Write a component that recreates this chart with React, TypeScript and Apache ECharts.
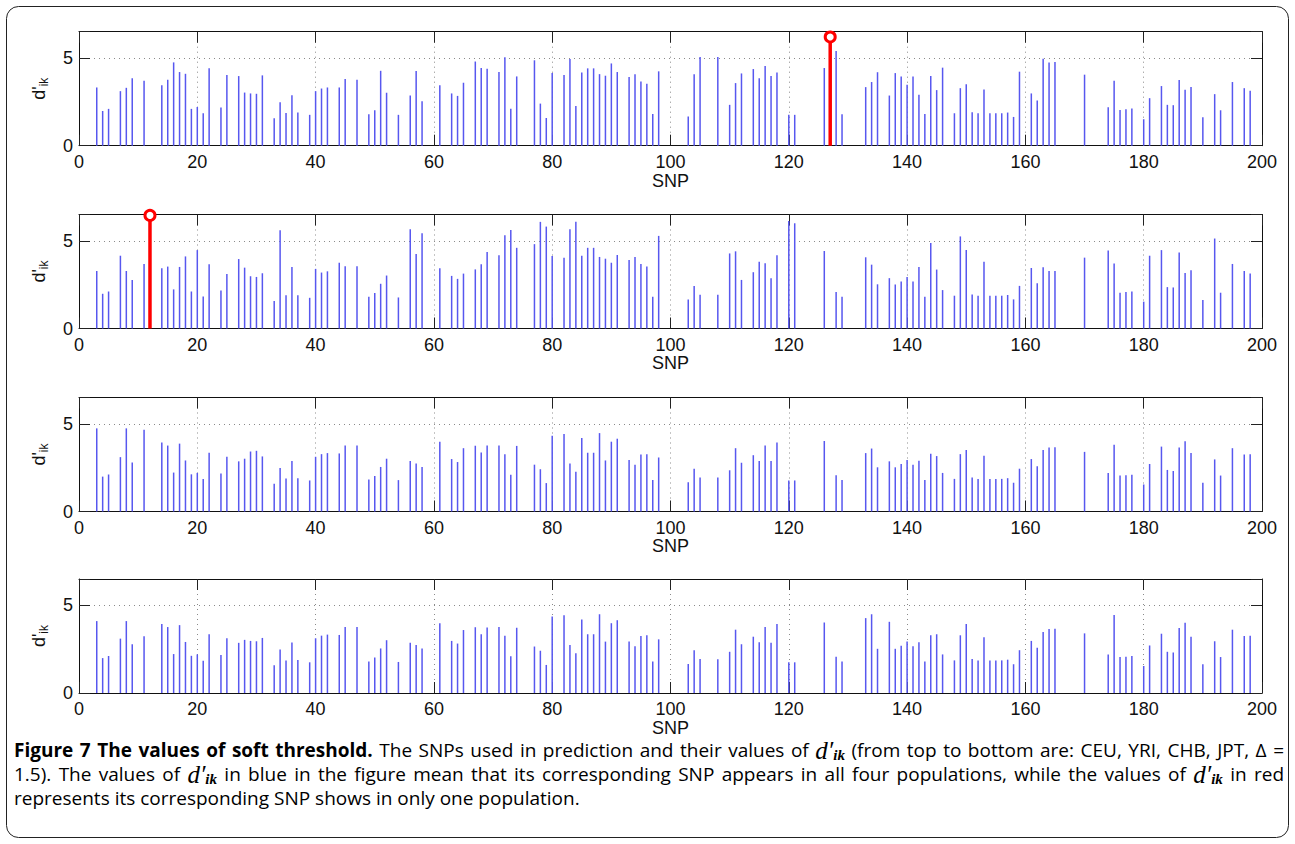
import { useEffect, useRef } from 'react';
import * as echarts from 'echarts';

// SNP indices that appear in all four populations
const snpPositions = [3,4,5,7,8,9,11,14,15,16,17,18,19,20,21,22,24,25,27,28,29,30,31,33,34,35,36,37,39,40,41,42,44,45,47,49,50,51,52,54,56,57,58,61,63,64,65,67,68,69,71,72,73,74,77,78,79,80,82,83,84,85,86,87,88,89,90,91,93,94,95,96,97,98,103,104,105,108,110,111,112,114,115,116,117,118,120,121,126,128,129,133,134,135,137,138,139,140,141,142,143,144,145,146,148,149,150,151,152,153,154,155,156,157,158,159,161,162,163,164,165,170,174,175,176,177,178,180,181,183,184,185,186,187,188,190,192,193,195,197,198];

const ceuValues = [3.32,1.98,2.10,3.11,3.30,3.84,3.70,3.44,3.76,4.75,4.20,4.10,2.10,2.21,1.85,4.41,2.18,4.03,3.97,3.03,2.98,2.96,4.01,1.56,2.48,1.87,2.88,1.89,1.76,3.11,3.26,3.32,3.32,3.80,3.76,1.79,2.02,4.27,3.02,1.76,2.86,4.26,2.54,3.45,2.98,2.84,3.59,4.80,4.43,4.39,4.20,5.04,2.10,3.95,4.87,2.40,1.58,4.14,4.03,4.94,2.27,4.18,4.41,4.41,4.08,3.99,4.69,4.20,3.91,4.08,3.66,3.53,1.81,4.24,1.66,4.08,5.06,5.06,2.33,3.57,4.12,4.37,3.84,4.54,3.97,4.18,1.76,1.76,4.43,5.40,1.79,3.34,3.63,4.19,2.86,4.14,3.95,3.47,3.95,2.90,1.81,3.97,3.17,4.45,1.85,3.28,3.51,1.91,1.85,3.21,1.85,1.85,1.85,1.89,1.64,4.22,2.98,2.58,4.96,4.75,4.77,4.05,2.19,3.70,2.04,2.08,2.12,1.51,2.71,3.40,2.33,2.31,3.74,3.19,3.34,1.62,2.94,2.02,3.63,3.28,3.13];

const yriValues = [3.28,1.98,2.11,4.15,3.28,2.77,3.68,3.43,3.53,2.23,3.51,4.11,2.11,4.47,1.83,3.66,2.17,3.11,3.96,3.47,2.98,2.94,3.15,1.57,5.60,1.89,3.51,1.89,1.75,3.40,3.19,3.26,3.75,3.55,3.55,1.81,2.02,2.55,3.02,1.77,5.66,4.25,5.43,3.43,3.00,2.83,3.13,3.37,3.66,4.36,4.17,5.32,5.62,4.60,4.81,6.08,5.81,4.13,4.04,5.66,6.08,4.15,4.60,4.60,4.08,3.98,3.75,4.19,3.91,4.08,3.68,3.53,1.81,5.28,1.66,2.43,1.92,1.92,4.28,4.40,2.77,3.21,3.81,3.72,2.87,4.17,6.13,6.00,4.42,2.08,1.81,4.06,3.64,2.52,2.87,2.51,2.68,2.94,2.68,3.51,1.81,4.87,3.36,2.19,1.87,5.25,4.47,1.94,1.87,3.81,1.87,1.87,1.87,1.91,1.66,2.43,3.45,2.58,3.49,3.28,3.28,4.04,4.45,3.70,2.04,2.08,2.11,1.53,4.15,4.47,2.36,2.34,4.34,3.17,3.32,1.62,5.13,2.04,3.68,3.28,3.13];

const chbValues = [4.74,1.99,2.11,3.10,4.74,2.80,4.66,3.93,3.76,2.22,3.87,2.91,2.12,2.20,1.86,3.35,2.16,3.12,2.86,3.01,3.42,3.46,3.14,1.58,2.48,1.88,2.88,1.90,1.77,3.12,3.27,3.33,3.31,3.76,3.76,1.82,2.03,2.54,3.01,1.79,2.88,2.74,2.54,3.98,2.99,2.82,3.61,3.75,3.36,3.76,3.76,3.27,2.09,3.74,2.67,2.41,1.62,4.32,4.42,2.73,2.27,4.19,3.35,3.35,4.47,2.91,3.98,4.15,2.93,2.67,3.25,3.27,1.80,3.08,1.67,2.44,1.94,1.94,2.35,3.61,2.78,3.21,2.88,3.76,2.88,3.93,1.77,1.77,4.02,2.07,1.80,3.33,3.59,2.52,2.86,2.52,2.71,2.93,2.67,2.89,1.80,3.29,3.16,2.20,1.86,3.27,3.50,1.94,1.86,3.18,1.86,1.86,1.86,1.90,1.64,2.44,2.99,2.58,3.50,3.65,3.67,3.40,2.20,3.80,2.05,2.07,2.09,1.54,2.71,3.70,2.37,2.31,3.65,4.00,3.33,1.64,2.97,2.05,3.61,3.25,3.27];

const jptValues = [4.10,1.99,2.11,3.10,4.10,2.78,3.23,3.93,3.76,2.22,3.87,2.91,2.12,2.20,1.84,3.35,2.16,3.12,2.86,3.03,2.97,2.95,3.14,1.58,2.48,1.86,2.88,1.88,1.75,3.12,3.27,3.33,3.31,3.76,3.76,1.80,2.03,2.54,3.01,1.77,2.86,2.74,2.54,3.97,2.97,2.82,3.59,3.75,3.35,3.74,3.76,3.27,2.09,3.72,2.65,2.41,1.60,4.36,4.44,2.73,2.27,4.19,3.35,3.35,4.49,2.93,3.98,4.15,2.93,2.67,3.25,3.29,1.80,3.06,1.65,2.44,1.94,1.92,2.35,3.61,2.78,3.21,2.89,3.76,2.86,3.93,1.75,1.75,4.02,2.07,1.79,4.27,4.49,2.52,4.06,2.52,2.69,2.93,2.67,2.89,1.79,3.29,3.35,2.20,1.86,3.29,3.93,1.94,1.86,3.18,1.86,1.86,1.86,1.90,1.64,2.44,2.97,2.58,3.48,3.65,3.67,3.40,2.20,4.45,2.05,2.07,2.11,1.54,2.71,3.38,2.35,2.31,3.70,4.00,3.21,1.64,2.95,2.05,3.61,3.25,3.27];

// SNPs found in only one population (panel index, SNP, value)
const uniquePanel = [0, 1];
const uniqueSnp = [127, 12];
const uniqueValue = [6.2, 6.45];

const xTickLabels = [0, 20, 40, 60, 80, 100, 120, 140, 160, 180, 200];
const yTickLabels = [0, 5];

const panelValues = [ceuValues, yriValues, chbValues, jptValues];

// Caption (M marks the d′ik symbol)
const captionTitle = 'Figure 7 The values of soft threshold.';
const captionLine1 = 'The SNPs used in prediction and their values of M (from top to bottom are: CEU, YRI, CHB, JPT, Δ =';
const captionLine2 = '1.5). The values of M in blue in the figure mean that its corresponding SNP appears in all four populations, while the values of M in red';
const captionLine3 = 'represents its corresponding SNP shows in only one population.';

const AXIS_FONT = '"Liberation Sans", Arial, Helvetica, sans-serif';
const CAP_FONT = '"Open Sans", "Noto Sans", sans-serif';
const MATH_FONT = '"Liberation Serif", "DejaVu Serif", serif';
const CAP_SIZE = 19;

function stemRenderer(color: string, width: number) {
  return (params: any, api: any) => {
    const base = api.coord([api.value(0), 0]);
    const top = api.coord([api.value(0), api.value(1)]);
    return {
      type: 'line',
      shape: { x1: base[0], y1: base[1], x2: top[0], y2: top[1] },
      style: { stroke: color, lineWidth: width },
      silent: true,
    };
  };
}

function buildCaption(): any[] {
  const ctx = document.createElement('canvas').getContext('2d') as CanvasRenderingContext2D;
  const measure = (t: string, font: string) => { ctx.font = font; return ctx.measureText(t).width; };
  const fontN = `${CAP_SIZE}px ${CAP_FONT}`;
  const fontB = `bold ${CAP_SIZE}px ${CAP_FONT}`;
  const fontM = `italic 25px ${MATH_FONT}`;
  const fontS = `italic bold 15px ${MATH_FONT}`;
  const rich = {
    b: { fontFamily: CAP_FONT, fontWeight: 'bold', fontSize: CAP_SIZE, color: '#1d3f8f', lineHeight: 20, verticalAlign: 'middle' },
    n: { fontFamily: CAP_FONT, fontSize: CAP_SIZE, color: '#222', lineHeight: 20, verticalAlign: 'middle' },
    m: { fontFamily: MATH_FONT, fontStyle: 'italic', fontSize: 25, color: '#111', lineHeight: 24, verticalAlign: 'middle' },
    s: { fontFamily: MATH_FONT, fontStyle: 'italic', fontWeight: 'bold', fontSize: 15, color: '#111', lineHeight: 14, verticalAlign: 'bottom' },
  };
  type W = { text: string; width: number };
  const mkWords = (line: string, style: 'n' | 'b'): W[] =>
    line.split(' ').map((wd) => {
      if (wd === 'M') return { text: '{m|d′}{s|ik}', width: measure('d′', fontM) + measure('ik', fontS) };
      return { text: `{${style}|${wd}}`, width: measure(wd, style === 'b' ? fontB : fontN) };
    });
  const lines: W[][] = [
    [...mkWords(captionTitle, 'b'), ...mkWords(captionLine1, 'n')],
    mkWords(captionLine2, 'n'),
    mkWords(captionLine3, 'n'),
  ];
  const x0 = 14;
  const x1 = 1284;
  const ys = [750, 774, 798];
  const space = measure(' ', fontN);
  const els: any[] = [];
  lines.forEach((words, li) => {
    const total = words.reduce((a, w) => a + w.width, 0);
    const justify = li < lines.length - 1;
    const gap = justify ? Math.max(space * 0.8, (x1 - x0 - total) / (words.length - 1)) : space;
    let x = x0;
    words.forEach((w) => {
      els.push({ type: 'text', x, y: ys[li], silent: true, style: { text: w.text, rich, verticalAlign: 'middle', align: 'left' } });
      x += w.width + gap;
    });
  });
  return els;
}

export default function App() {
  const ref = useRef<HTMLDivElement>(null);
  useEffect(() => {
    if (!ref.current) return;
    const chart = echarts.init(ref.current, undefined, { renderer: 'svg' });
    const tops = [31.7, 214.5, 397.5, 579];
    const grids: any[] = [];
    const xAxes: any[] = [];
    const yAxes: any[] = [];
    const series: any[] = [];
    const xMax = xTickLabels[xTickLabels.length - 1];
    const xInt = xTickLabels[1] - xTickLabels[0];
    const yInt = yTickLabels[1] - yTickLabels[0];
    for (let i = 0; i < 4; i++) {
      grids.push({ left: 79, top: tops[i], width: 1183, height: 114, show: false });
      xAxes.push({
        type: 'value', gridIndex: i, min: 0, max: xMax, interval: xInt, position: 'bottom',
        axisLine: { show: true, onZero: false, lineStyle: { color: '#111', width: 1 } },
        axisTick: { show: true, inside: true, length: 11, lineStyle: { color: '#222', width: 1 } },
        axisLabel: { show: true, fontSize: 18, color: '#111', margin: 7, fontFamily: AXIS_FONT },
        splitLine: { show: true, lineStyle: { color: '#8a8a8a', type: [1, 4], width: 1 } },
        name: 'SNP', nameLocation: 'middle', nameGap: 24,
        nameTextStyle: { fontSize: 18, color: '#111', fontFamily: AXIS_FONT, lineHeight: 17 },
      });
      xAxes.push({
        type: 'value', gridIndex: i, min: 0, max: xMax, interval: xInt, position: 'top',
        axisLine: { show: true, onZero: false, lineStyle: { color: '#111', width: 1 } },
        axisTick: { show: true, inside: true, length: 11, lineStyle: { color: '#222', width: 1 } },
        axisLabel: { show: false },
        splitLine: { show: false },
      });
      yAxes.push({
        type: 'value', gridIndex: i, min: 0, max: 6.5, interval: yInt, position: 'left',
        axisLine: { show: true, onZero: false, lineStyle: { color: '#111', width: 1 } },
        axisTick: { show: true, inside: true, length: 11, lineStyle: { color: '#222', width: 1 } },
        axisLabel: {
          show: true, fontSize: 18, color: '#111', margin: 6, fontFamily: AXIS_FONT,
          formatter: (v: number) => (yTickLabels.indexOf(v) >= 0 ? String(v) : ''),
        },
        splitLine: { show: true, lineStyle: { color: '#8a8a8a', type: [1, 4], width: 1 } },
        name: "{a|d'}{b|ik}", nameLocation: 'middle', nameGap: 23, nameRotate: 90,
        nameTextStyle: {
          color: '#111', fontFamily: AXIS_FONT,
          rich: {
            a: { fontSize: 18, fontFamily: AXIS_FONT, color: '#111', lineHeight: 26, verticalAlign: 'middle' },
            b: { fontSize: 12, fontFamily: AXIS_FONT, color: '#111', lineHeight: 26, verticalAlign: 'bottom', padding: [0, 0, 2, 0] },
          },
        },
      });
      yAxes.push({
        type: 'value', gridIndex: i, min: 0, max: 6.5, interval: yInt, position: 'right',
        axisLine: { show: true, onZero: false, lineStyle: { color: '#111', width: 1 } },
        axisTick: { show: true, inside: true, length: 11, lineStyle: { color: '#222', width: 1 } },
        axisLabel: { show: false },
        splitLine: { show: false },
      });
      series.push({
        type: 'custom', xAxisIndex: 2 * i, yAxisIndex: 2 * i,
        data: snpPositions.map((s, k) => [s, panelValues[i][k]]),
        encode: { x: 0, y: 1 },
        renderItem: stemRenderer('#5757ef', 1.5),
        silent: true,
      });
    }
    uniquePanel.forEach((p, j) => {
      series.push({
        type: 'custom', xAxisIndex: 2 * p, yAxisIndex: 2 * p,
        data: [[uniqueSnp[j], uniqueValue[j]]],
        encode: { x: 0, y: 1 },
        renderItem: stemRenderer('#ff0000', 3.5),
        silent: true, z: 5,
      });
      series.push({
        type: 'scatter', xAxisIndex: 2 * p, yAxisIndex: 2 * p,
        data: [[uniqueSnp[j], uniqueValue[j]]],
        symbol: 'circle', symbolSize: 10,
        itemStyle: { color: '#ffffff', borderColor: '#ff0000', borderWidth: 3, opacity: 1 },
        silent: true, z: 6, clip: false,
      });
    });

    chart.setOption({
      animation: false,
      backgroundColor: '#ffffff',
      grid: grids,
      xAxis: xAxes,
      yAxis: yAxes,
      series,
      graphic: [
        { type: 'rect', shape: { x: 6.5, y: 6.5, width: 1282, height: 831, r: 12 }, style: { fill: 'none', stroke: '#222', lineWidth: 1 }, silent: true },
        ...buildCaption(),
      ],
    });
    return () => chart.dispose();
  }, []);
  return <div ref={ref} style={{ position: 'absolute', left: 0, top: 0, width: 1295, height: 844 }} />;
}
